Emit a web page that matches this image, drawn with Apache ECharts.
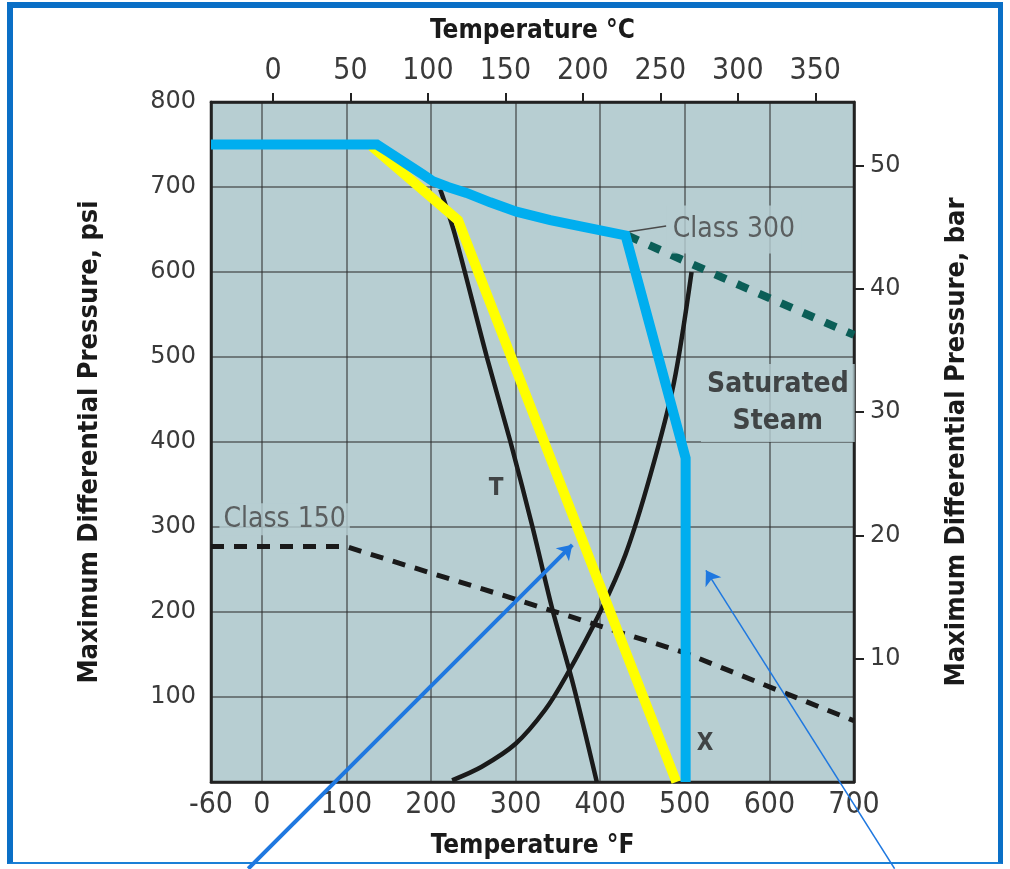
<!DOCTYPE html>
<html><head><meta charset="utf-8">
<script src="https://cdn.jsdelivr.net/npm/echarts@6/dist/echarts.min.js"></script>
<style>
html,body{margin:0;padding:0;background:#fff;}
#frame{position:absolute;left:7px;top:2px;width:996px;height:862px;border-left:6px solid #0a6fc6;border-top:6px solid #0a6fc6;border-right:5px solid #0a6fc6;border-bottom:2px solid #1a7fd6;box-sizing:border-box;}
#chart{position:absolute;left:0;top:0;width:1010px;height:869px;}
</style></head>
<body>
<div id="frame"></div>
<div id="chart"></div>
<script>
// ---- axis ticks / labels ----
const fTicks = [0, 100, 200, 300, 400, 500, 600];
const fLabels = [-60, 0, 100, 200, 300, 400, 500, 600, 700];
const cLabels = [0, 50, 100, 150, 200, 250, 300, 350];
const barLabels = [10, 20, 30, 40, 50];
const PSI_PER_BAR = 14.5038;

// ---- series data: [°F, psi] ----
const blueLimit = [[-60,750],[136,750],[150,741],[170,728],[190,715],[202,707],[220,700],[242,693],[270,682],[301,671],[341,661],[380,653],[430,643],[501,381],[501,0]];
const yellowLimit = [[130,748],[232,661],[490,0]];
const curveT = [[211,697],[228,645],[266,500],[294,400],[320,300],[343,205],[368,115],[396,0]];
const curveX = [[225,2],[260,18],[300,45],[335,85],[360,125],[400,200],[430,268],[459,360],[487,469],[508,600]];
const class150 = [[-60,277],[100,277],[125,269],[300,215],[500,152],[700,72]];
const class300 = [[432,643],[566,584],[700,526]];
const class300Leader = [[432,647],[478,654]];

// ---- annotations ----
const arrowThick = [[-16,-102],[367,279]];
const arrowThin = [[748,-102],[525,249]];
const txtClass300 = [558, 650, 'Class 300'];
const txtClass150 = [27, 309, 'Class 150'];
const txtSteam = [610, 446, 'Saturated\nSteam'];
const txtT = [277, 345, 'T'];
const txtX = [524, 45, 'X'];

const BG = '#b7ced2';
const NARROW = "'Liberation Sans Narrow','DejaVu Sans Condensed',sans-serif";
const WIDE = "'DejaVu Sans',Verdana,sans-serif";

function textSeries(item, style) {
  return {
    type: 'scatter', xAxisIndex: 0, yAxisIndex: 0, symbolSize: 0, silent: true, z: 10,
    data: [item],
    label: Object.assign({show: true, position: 'inside', formatter: p => p.value[2]}, style)
  };
}

const chart = echarts.init(document.getElementById('chart'), null, {renderer: 'canvas'});
chart.setOption({
  animation: false,
  grid: {left: 211, top: 102, width: 643, height: 680, show: true, backgroundColor: BG, borderColor: '#222', borderWidth: 2.5, containLabel: false, outerBoundsMode: 'none'},
  xAxis: [
    {type: 'value', position: 'bottom', min: -60, max: 700,
     name: 'Temperature °F', nameLocation: 'middle', nameGap: 51,
     nameTextStyle: {fontFamily: NARROW, fontWeight: 'bold', fontSize: 26, color: '#1a1a1a'},
     axisLine: {show: true, onZero: false, lineStyle: {color: '#222', width: 2.5}},
     axisTick: {show: false, customValues: fTicks},
     axisLabel: {customValues: fLabels, margin: 8, fontFamily: NARROW, fontSize: 30, color: '#3a3a3a'},
     splitLine: {show: true, lineStyle: {color: 'rgba(45,45,45,0.7)', width: 1.5}}},
    {type: 'value', position: 'top', min: -40, max: 375,
     name: 'Temperature °C', nameLocation: 'middle', nameGap: 58,
     nameTextStyle: {fontFamily: NARROW, fontWeight: 'bold', fontSize: 26, color: '#1a1a1a'},
     axisLine: {show: true, onZero: false, lineStyle: {color: '#222', width: 2.5}},
     axisTick: {show: true, inside: false, length: 9, customValues: cLabels, lineStyle: {color: '#222', width: 2}},
     axisLabel: {customValues: cLabels, margin: 16, fontFamily: NARROW, fontSize: 30, color: '#3a3a3a'},
     splitLine: {show: false}}
  ],
  yAxis: [
    {type: 'value', position: 'left', min: 0, max: 800, interval: 100,
     name: 'Maximum Differential Pressure, psi', nameLocation: 'middle', nameGap: 108,
     nameTextStyle: {fontFamily: NARROW, fontWeight: 'bold', fontSize: 27, color: '#1a1a1a'},
     axisLine: {show: true, onZero: false, lineStyle: {color: '#222', width: 2.5}},
     axisTick: {show: false},
     axisLabel: {margin: 15, fontFamily: WIDE, fontSize: 24, color: '#3a3a3a', formatter: v => v === 0 ? '' : v},
     splitLine: {show: true, lineStyle: {color: 'rgba(45,45,45,0.7)', width: 1.5}}},
    {type: 'value', position: 'right', min: 0, max: 800 / PSI_PER_BAR,
     name: 'Maximum Differential Pressure, bar', nameLocation: 'middle', nameGap: 89,
     nameTextStyle: {fontFamily: NARROW, fontWeight: 'bold', fontSize: 27, color: '#1a1a1a'},
     axisLine: {show: true, onZero: false, lineStyle: {color: '#222', width: 2.5}},
     axisTick: {show: true, inside: false, length: 10, customValues: barLabels, lineStyle: {color: '#222', width: 2}},
     axisLabel: {customValues: barLabels, margin: 16, fontFamily: WIDE, fontSize: 24, color: '#3a3a3a'},
     splitLine: {show: false}}
  ],
  series: [
    {name: 'Class 150', type: 'line', data: class150, symbol: 'none', z: 2,
     lineStyle: {color: '#1a1a1a', width: 5, type: [13, 10]}},
    {name: 'Class 300', type: 'line', data: class300, symbol: 'none', z: 2,
     lineStyle: {color: '#0b5e57', width: 8, type: [12, 12]}},
    {name: 'Class 300 leader', type: 'line', data: class300Leader, symbol: 'none', z: 2,
     lineStyle: {color: '#4a4a4a', width: 1.5}},
    {name: 'T', type: 'line', data: curveT, symbol: 'none', smooth: 0.3, z: 3,
     lineStyle: {color: '#1a1a1a', width: 4.5}},
    {name: 'X', type: 'line', data: curveX, symbol: 'none', smooth: 0.3, z: 3,
     lineStyle: {color: '#1a1a1a', width: 4.5}},
    {name: 'Yellow', type: 'line', data: yellowLimit, symbol: 'none', z: 4,
     lineStyle: {color: '#ffff00', width: 10, join: 'miter'}},
    {name: 'Blue', type: 'line', data: blueLimit, symbol: 'none', z: 5,
     lineStyle: {color: '#00aeef', width: 10, join: 'miter'}},
    textSeries(txtClass300, {fontFamily: NARROW, fontSize: 28, color: '#444', backgroundColor: BG, padding: [10, 6]}),
    textSeries(txtClass150, {fontFamily: NARROW, fontSize: 28, color: '#444', backgroundColor: BG, padding: [2, 4]}),
    textSeries(txtSteam, {fontFamily: NARROW, fontSize: 28, fontWeight: 'bold', color: '#222', lineHeight: 37, align: 'center', backgroundColor: BG, padding: [2, 6]}),
    textSeries(txtT, {fontFamily: NARROW, fontSize: 24, fontWeight: 'bold', color: '#222'}),
    textSeries(txtX, {fontFamily: NARROW, fontSize: 24, fontWeight: 'bold', color: '#222'}),
    {name: 'Arrows', type: 'lines', coordinateSystem: 'cartesian2d', xAxisIndex: 0, yAxisIndex: 0, clip: false, z: 20,
     symbol: ['none', 'arrow'], symbolSize: 14, silent: true,
     data: [
       {coords: arrowThick, lineStyle: {color: '#1f78e0', width: 4, opacity: 1}},
       {coords: arrowThin, lineStyle: {color: '#1f78e0', width: 1.5, opacity: 1}}
     ]}
  ]
});
</script>
</body></html>
